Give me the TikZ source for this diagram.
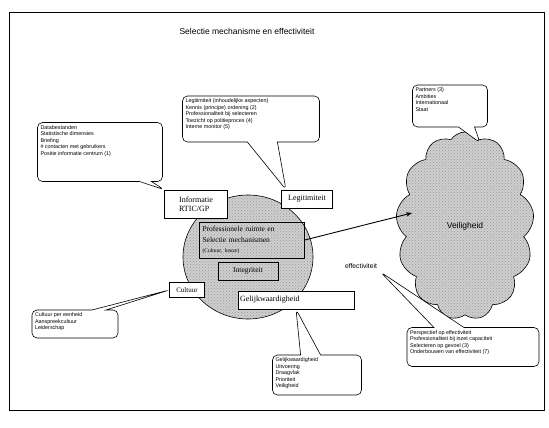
\documentclass[tikz,border=0pt]{standalone}
\usepackage{fontspec}
\setmainfont{Liberation Serif}
\setsansfont{Liberation Sans}
\usetikzlibrary{shapes.geometric,shapes.symbols,shapes.callouts,arrows.meta,patterns}

% text block of a callout: fixed height, text set from the top
\newcommand{\calloutblock}[3]{\parbox[c][#1][t]{#2}{\raggedright #3}}

\begin{document}
\begin{tikzpicture}[x=1pt,y=-1pt, line width=0.6pt,
  stipple/.style={preaction={fill=gray!38}, pattern=crosshatch dots, pattern color=gray!80},
  labelbox/.style={draw, fill=white, font=\fontsize{8}{9.5}\selectfont, inner sep=2pt},
  innerbox/.style={draw, font=\fontsize{7.5}{10.5}\selectfont, inner sep=3pt},
  callbox/.style={rectangle callout, draw, fill=white, rounded corners=5pt,
    font=\sffamily\fontsize{5.4}{6.4}\selectfont, inner sep=3pt},
  link/.style={-{Stealth[length=6pt,width=4.5pt]}, line width=0.9pt}
]
\useasboundingbox (0,0) rectangle (549,428);
\draw[line width=1pt] (9,13) rectangle (544,410);

\node[font=\sffamily\fontsize{8.5}{10}\selectfont] (title) at (247,31) {Selectie mechanisme en effectiviteit};

% central field of the selection mechanism
\node[ellipse, draw, stipple, minimum width=130pt, minimum height=124pt] (core) at (248,257) {};
\node[innerbox, align=left, text width=99pt, minimum height=36pt] (prof) at (252,240)
  {Professionele ruimte en\\Selectie mechanismen\\{\fontsize{5.5}{6}\selectfont (Cultuur, keuze)}};
\node[innerbox, minimum width=60pt, minimum height=18pt] (integ) at (248,271) {Integriteit};

\node[labelbox, align=left, minimum width=63pt, minimum height=28pt] (info) at (196,204) {Informatie\\RTIC/GP};
\node[labelbox, minimum width=51pt, minimum height=18pt] (legit) at (307,199) {Legitimiteit};
\node[labelbox, minimum width=35pt, minimum height=15pt, font=\fontsize{7}{8}\selectfont] (cult) at (187,290) {Cultuur};
\node[labelbox, text width=112pt, align=left, minimum height=18pt] (gelijk) at (296,300) {Gelijkwaardigheid};
\node[font=\sffamily\fontsize{6.8}{8}\selectfont] (effect) at (361,266) {effectiviteit};

% cloud of safety
\node[cloud, draw, stipple, cloud puffs=13, cloud puff arc=115, cloud ignores aspect,
  minimum width=138pt, minimum height=188pt, inner sep=0pt,
  font=\sffamily\fontsize{8.5}{10}\selectfont] (cloud) at (465,226) {Veiligheid};
\coordinate (hit) at (412,213);
\draw[link] (prof.east) -- (hit);

% callouts
\node[callbox, callout absolute pointer={(info.north west)}, callout pointer width=12pt] (infocall) at (100,152)
  {\calloutblock{53pt}{119pt}{Databestanden\\Statistische dimensies\\Briefing\\\# contacten met gebruikers\\Positie informatie centrum (1)}};
\node[callbox, callout absolute pointer={([xshift=-21pt]legit.north)}, callout pointer width=30pt] (legitcall) at (251,119)
  {\calloutblock{40pt}{131pt}{Legitimiteit (inhoudelijke aspecten)\\Kennis (principe) ordening (2)\\Professionaliteit bij selecteren\\Toezicht op politieproces (4)\\Interne monitor (5)}};
\node[callbox, callout absolute pointer={([xshift=15pt,yshift=-11pt]cloud.north)}, callout pointer width=16pt] (cloudcall) at (450,106)
  {\calloutblock{36pt}{69pt}{Partners (3)\\Ambities\\Internationaal\\Staat}};
\node[callbox, callout absolute pointer={(effect.south east)}, callout pointer width=30pt] (effcall) at (473,347)
  {\calloutblock{33pt}{126pt}{Perspectief op effectiviteit\\Professionaliteit bij inzet capaciteit\\Selecteren op gevoel (3)\\Onderbouwen van effectiviteit (7)}};
\node[callbox, callout absolute pointer={(gelijk.south)}, callout pointer width=20pt] (gelijkcall) at (317,375)
  {\calloutblock{34pt}{83pt}{Gelijkwaardigheid\\Uitvoering\\Draagvlak\\Prioriteit\\Veiligheid}};
\node[callbox, callout absolute pointer={(cult.west)}, callout pointer width=14pt] (cultcall) at (75,324)
  {\calloutblock{22pt}{80pt}{Cultuur per eenheid\\Aanspreekcultuur\\Leiderschap}};
\end{tikzpicture}
\end{document}
